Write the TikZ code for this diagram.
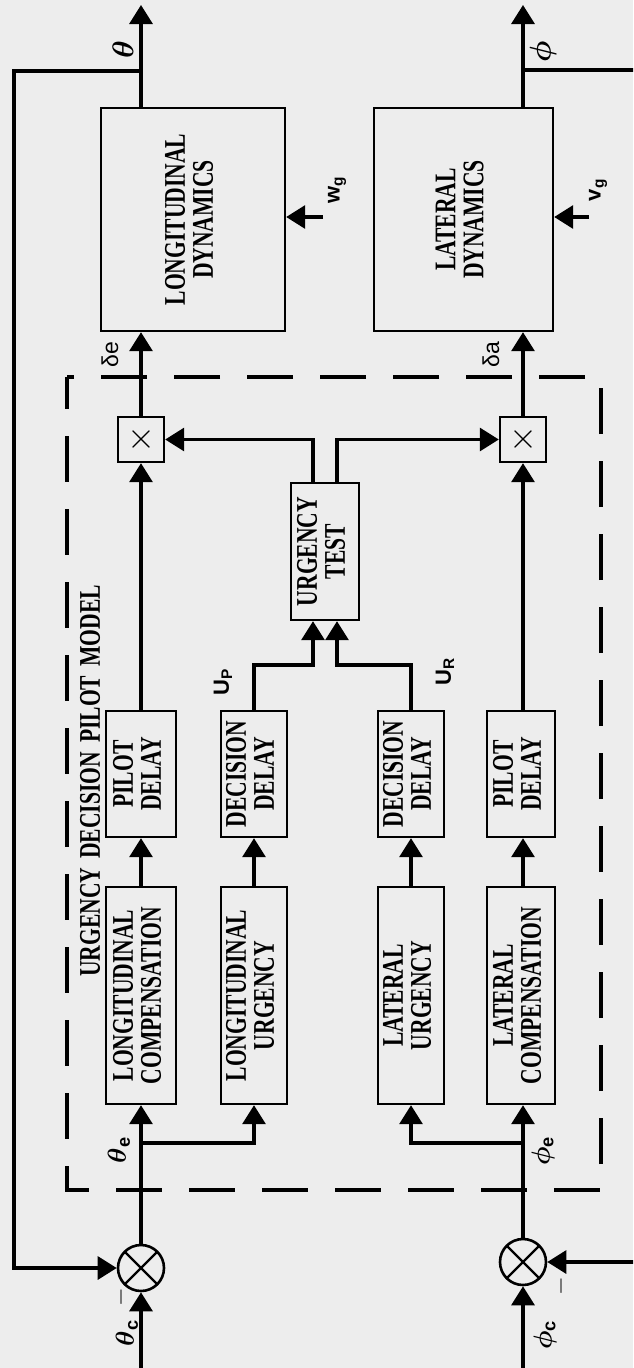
\RequirePackage{fix-cm}
\documentclass[tikz,border=0pt]{standalone}
\usepackage{amsmath}
\usepackage{amssymb}
\usepackage{fontspec}
\setmainfont{Liberation Serif}[FakeStretch=0.72]
\setsansfont{Liberation Sans}
\usetikzlibrary{arrows.meta}

\definecolor{papergray}{RGB}{237,237,237}
\newcommand{\rottext}[1]{\rotatebox{90}{\begin{tabular}{@{}c@{}}#1\end{tabular}}}

\begin{document}
\begin{tikzpicture}[x=1pt, y=-1pt,
    block_style/.style={draw, line width=2.4pt, inner sep=0pt, font=\bfseries\fontsize{30}{27}\selectfont},
    mult_style/.style={draw, line width=2.4pt, inner sep=0pt, minimum width=46pt, minimum height=45pt, font=\fontsize{36}{36}\selectfont},
    sum_style/.style={draw, circle, line width=2.6pt, minimum size=46pt, inner sep=0pt,
        path picture={\draw[line width=2.4pt] (path picture bounding box.north west) -- (path picture bounding box.south east)
            (path picture bounding box.north east) -- (path picture bounding box.south west);}},
    flow_style/.style={line width=3.2pt, -{Triangle[width=23pt, length=19pt]}},
    label_style/.style={inner sep=0pt, rotate=90, font=\fontsize{24}{26}\selectfont},
    tag_style/.style={inner sep=0pt, rotate=90, font=\sffamily\bfseries\fontsize{22}{24}\selectfont},
    dashed_line/.style={line width=4pt, dash pattern=on 46pt off 27pt, dash phase=14pt}
]
    % Page
    \useasboundingbox (0,0) rectangle (633,1368);
    \clip (0,0) rectangle (633,1368);
    \fill[papergray] (0,0) rectangle (633,1368);

    % Pilot model frame
    \draw[dashed_line] (67,377) rectangle (601,1190);
    \node (model_title) at (90,781) [label_style, font=\bfseries\fontsize{30}{30}\selectfont] {URGENCY\hspace{0.3em}DECISION\hspace{0.3em}PILOT\hspace{0.3em}MODEL};

    % Aircraft dynamics
    \node (long_dyn) at (193,219.5) [block_style, minimum width=184pt, minimum height=223pt] {\rottext{LONGITUDINAL\\DYNAMICS}};
    \node (lat_dyn) at (463.5,219.5) [block_style, minimum width=179pt, minimum height=223pt] {\rottext{LATERAL\\DYNAMICS}};

    % Multipliers and urgency test
    \node (mult_lon) at (141,439.5) [mult_style] {$\times$};
    \node (mult_lat) at (523,439.5) [mult_style] {$\times$};
    \node (urg_test) at (325,551.5) [block_style, minimum width=68pt, minimum height=137pt] {\rottext{URGENCY\\TEST}};

    % Delays
    \node (pilot_lon) at (141,774) [block_style, minimum width=70pt, minimum height=126pt] {\rottext{PILOT\\DELAY}};
    \node (dec_lon) at (254,774) [block_style, minimum width=66pt, minimum height=126pt] {\rottext{DECISION\\DELAY}};
    \node (dec_lat) at (411,774) [block_style, minimum width=66pt, minimum height=126pt] {\rottext{DECISION\\DELAY}};
    \node (pilot_lat) at (521,774) [block_style, minimum width=68pt, minimum height=126pt] {\rottext{PILOT\\DELAY}};

    % Compensation and urgency
    \node (comp_lon) at (141,995.5) [block_style, minimum width=70pt, minimum height=217pt] {\rottext{LONGITUDINAL\\COMPENSATION}};
    \node (urg_lon) at (254,995.5) [block_style, minimum width=66pt, minimum height=217pt] {\rottext{LONGITUDINAL\\URGENCY}};
    \node (urg_lat) at (411,995.5) [block_style, minimum width=66pt, minimum height=217pt] {\rottext{LATERAL\\URGENCY}};
    \node (comp_lat) at (521,995.5) [block_style, minimum width=68pt, minimum height=217pt] {\rottext{LATERAL\\COMPENSATION}};

    % Summing junctions
    \node (sum_lon) at (141,1268) [sum_style] {};
    \node (sum_lat) at (523,1262) [sum_style] {};

    % Free ends and branch points
    \coordinate (theta_out) at (141,5);
    \coordinate (phi_out) at (523,5);
    \coordinate (theta_tap) at (141,71);
    \coordinate (phi_tap) at (523,70);
    \coordinate (fb_left) at (14,71);
    \coordinate (fb_right) at (650,70);
    \coordinate (theta_c_in) at (141,1380);
    \coordinate (phi_c_in) at (523,1380);
    \coordinate (wg_in) at (323,217);
    \coordinate (vg_in) at (589,217);
    \coordinate (theta_e_tap) at (141,1143);
    \coordinate (phi_e_tap) at (523,1143);
    \coordinate (up_join) at (313,665);
    \coordinate (ur_join) at (337,665);
    \coordinate (ut_out_lon) at (313,439.5);
    \coordinate (ut_out_lat) at (337,439.5);

    % Longitudinal channel
    \draw[flow_style] (theta_c_in) -- (sum_lon.south);
    \draw[flow_style] (sum_lon.north) -- (comp_lon.south);
    \draw[flow_style] (theta_e_tap) -| (urg_lon.south);
    \draw[flow_style] (comp_lon.north) -- (pilot_lon.south);
    \draw[flow_style] (urg_lon.north) -- (dec_lon.south);
    \draw[flow_style] (pilot_lon.north) -- (mult_lon.south);
    \draw[flow_style] (mult_lon.north) -- (mult_lon.north |- long_dyn.south);
    \draw[flow_style] (mult_lon.north |- long_dyn.north) -- (theta_out);
    \draw[flow_style] (theta_tap) -- (fb_left) |- (sum_lon.west);
    \draw[flow_style] (wg_in) -- (wg_in -| long_dyn.east);

    % Lateral channel
    \draw[flow_style] (phi_c_in) -- (sum_lat.south);
    \draw[flow_style] (sum_lat.north) -- (phi_e_tap) -- (phi_e_tap |- comp_lat.south);
    \draw[flow_style] (phi_e_tap) -| (urg_lat.south);
    \draw[flow_style] (phi_e_tap |- comp_lat.north) -- (phi_e_tap |- pilot_lat.south);
    \draw[flow_style] (urg_lat.north) -- (dec_lat.south);
    \draw[flow_style] (phi_e_tap |- pilot_lat.north) -- (mult_lat.south);
    \draw[flow_style] (mult_lat.north) -- (mult_lat.north |- lat_dyn.south);
    \draw[flow_style] (mult_lat.north |- lat_dyn.north) -- (phi_out);
    \draw[flow_style] (phi_tap) -- (fb_right) |- (sum_lat.east);
    \draw[flow_style] (vg_in) -- (vg_in -| lat_dyn.east);

    % Urgency decision
    \draw[flow_style] (dec_lon.north) |- (up_join) -- (up_join |- urg_test.south);
    \draw[flow_style] (dec_lat.north) |- (ur_join) -- (ur_join |- urg_test.south);
    \draw[flow_style] (ut_out_lon |- urg_test.north) -- (ut_out_lon) -- (mult_lon.east);
    \draw[flow_style] (ut_out_lat |- urg_test.north) -- (ut_out_lat) -- (mult_lat.west);

    % Signal labels
    \node (theta_lbl) at (123,50) [label_style, font=\fontsize{30}{30}\selectfont] {$\boldsymbol{\theta}$};
    \node (phi_lbl) at (543,52) [label_style, font=\fontsize{30}{30}\selectfont] {$\boldsymbol{\phi}$};
    \node (wg_lbl) at (337,190) [tag_style] {w\textsubscript{g}};
    \node (vg_lbl) at (598,190) [tag_style] {v\textsubscript{g}};
    \node (de_lbl) at (110,355) [tag_style, font=\sffamily\fontsize{23}{24}\selectfont] {δe};
    \node (da_lbl) at (491,355) [tag_style, font=\sffamily\fontsize{23}{24}\selectfont] {δa};
    \node (up_lbl) at (223,682) [tag_style] {U\textsubscript{P}};
    \node (ur_lbl) at (445,672) [tag_style] {U\textsubscript{R}};
    \node (te_lbl) at (119,1150) [tag_style, font=\sffamily\bfseries\fontsize{26}{28}\selectfont] {$\boldsymbol{\theta}$\textsubscript{e}};
    \node (pe_lbl) at (543,1151) [tag_style, font=\sffamily\bfseries\fontsize{26}{28}\selectfont] {$\boldsymbol{\phi}$\textsubscript{e}};
    \node (tc_lbl) at (127,1333) [tag_style, font=\sffamily\bfseries\fontsize{26}{28}\selectfont] {$\boldsymbol{\theta}$\textsubscript{c}};
    \node (pc_lbl) at (545,1335) [tag_style, font=\sffamily\bfseries\fontsize{26}{28}\selectfont] {$\boldsymbol{\phi}$\textsubscript{c}};
    \node (minus_lon) at (121,1297) [label_style] {$-$};
    \node (minus_lat) at (561,1286) [label_style] {$-$};

\end{tikzpicture}
\end{document}
